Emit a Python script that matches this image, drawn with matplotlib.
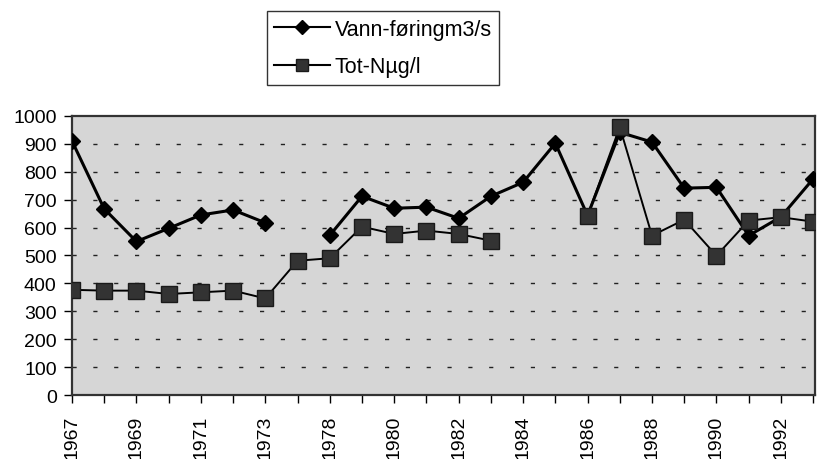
import matplotlib.pyplot as plt
from matplotlib.lines import Line2D
import numpy as np

plt.rcParams['font.family'] = ['Liberation Sans', 'DejaVu Sans']

# categories (one unlabelled year between 1973 and 1978)
years = ['1967', '1968', '1969', '1970', '1971', '1972', '1973', '1975',
         '1978', '1979', '1980', '1981', '1982', '1983', '1984', '1985',
         '1986', '1987', '1988', '1989', '1990', '1991', '1992', '1993']

vannforing = [910, 667, 550, 597, 645, 663, 617, np.nan,
              572, 712, 669, 673, 633, 712, 762, 902,
              643, 941, 906, 741, 744, 571, 638, 774]

tot_n = [377, 374, 374, 362, 368, 374, 346, 481,
         490, 603, 577, 589, 577, 553, np.nan, np.nan,
         643, 960, 571, 628, 499, 625, 637, 621]

fig = plt.figure(figsize=(8.18, 4.6), dpi=100)
ax = fig.add_axes([0.088, 0.139, 0.908, 0.607])
ax.set_facecolor('#d6d6d6')

x = np.arange(len(years))

# dashed horizontal grid
for yv in range(100, 1000, 100):
    ax.axhline(yv, color='#222222', lw=1.0, dashes=(3, 12), zorder=1)

ax.plot(x, vannforing, color='black', lw=2.2, marker='D', markersize=8,
        markerfacecolor='black', markeredgecolor='black', zorder=3)
ax.plot(x, tot_n, color='black', lw=1.4, marker='s', markersize=11,
        markerfacecolor='#333333', markeredgecolor='#1a1a1a', zorder=4)

ax.set_xlim(0, len(years) - 0.95)
ax.set_ylim(0, 1000)
ax.set_yticks(range(0, 1001, 100))
ax.tick_params(axis='y', labelsize=14, length=6, width=1, direction='out', pad=5)
ax.set_xticks(x)
ax.set_xticklabels([y if i % 2 == 0 else '' for i, y in enumerate(years)],
                   rotation=90, fontsize=14)
ax.tick_params(axis='x', length=6, width=1, direction='out', pad=8)

for sp in ax.spines.values():
    sp.set_linewidth(1.6)
    sp.set_color('#333333')

handles = [
    Line2D([], [], color='black', lw=1.5, marker='D', markersize=7,
           markerfacecolor='black', markeredgecolor='black'),
    Line2D([], [], color='black', lw=1.5, marker='s', markersize=8,
           markerfacecolor='#333333', markeredgecolor='#1a1a1a'),
]
leg = fig.legend(handles, ['Vann-føringm3/s', 'Tot-Nµg/l'],
                 loc='upper left', bbox_to_anchor=(0.326, 0.973),
                 fontsize=15.5, frameon=True, fancybox=False,
                 handlelength=2.6, borderpad=0.35, labelspacing=0.75,
                 handletextpad=0.2, borderaxespad=0)
leg.get_frame().set_edgecolor('black')
leg.get_frame().set_linewidth(1.0)

fig.savefig('out.png', dpi=100)
